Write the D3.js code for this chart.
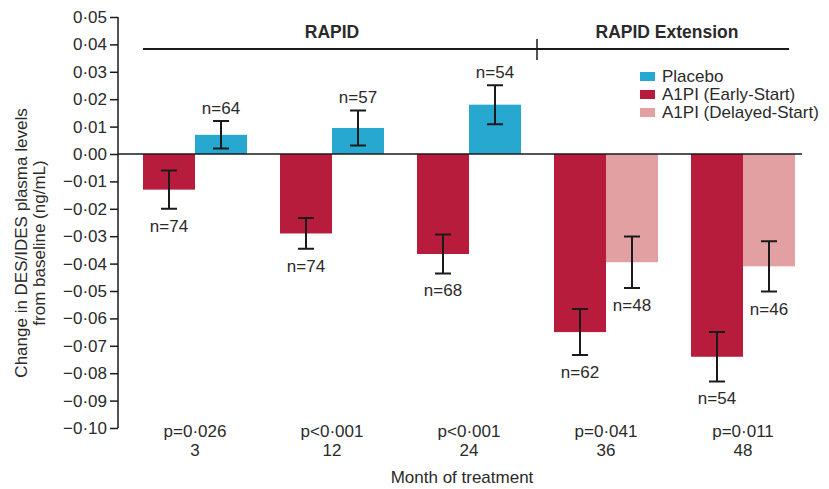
<!DOCTYPE html>
<html>
<head>
<meta charset="utf-8">
<script src="https://cdn.jsdelivr.net/npm/d3@7"></script>
<style>
  body { margin: 0; background: #fff; }
  text { font-family: "Liberation Sans", Arial, sans-serif; fill: #2a2a2a; }
</style>
</head>
<body>
<div id="chart"></div>
<script>
  "use strict";

  // data
  var months = ["3", "12", "24", "36", "48"];
  var pValues = ["p=0·026", "p<0·001", "p<0·001", "p=0·041", "p=0·011"];
  var earlyStart = [-0.013, -0.029, -0.0365, -0.065, -0.074];
  var earlyErr = [0.007, 0.0056, 0.0071, 0.0084, 0.009];
  var earlyN = [74, 74, 68, 62, 54];
  var comparator = [0.007, 0.0095, 0.018, -0.0395, -0.041];
  var comparatorErr = [0.005, 0.0064, 0.0071, 0.0094, 0.0092];
  var comparatorN = [64, 57, 54, 48, 46];
  var comparatorGroup = ["Placebo", "Placebo", "Placebo", "Delayed", "Delayed"];
  var yTicks = [0.05, 0.04, 0.03, 0.02, 0.01, 0, -0.01, -0.02, -0.03, -0.04, -0.05, -0.06, -0.07, -0.08, -0.09, -0.10];
  var legendLabels = ["Placebo", "A1PI (Early-Start)", "A1PI (Delayed-Start)"];

  var width = 829, height = 489;
  var colors = { "Placebo": "#27a8d0", "Early": "#b71c3c", "Delayed": "#e2a0a2" };
  var fs = "17px";

  var svg = d3.select("#chart").append("svg")
    .attr("width", width)
    .attr("height", height);

  var y = d3.scaleLinear().domain([-0.10, 0.05]).range([428, 17]);
  var x = d3.scalePoint().domain(months).range([195, 743]);
  var xSub = d3.scaleBand().domain(["a", "b"]).range([-52, 52]);

  var fmt = function(v) {
    var s = d3.format(".2f")(Math.abs(v)).replace(".", "·");
    return (v < 0 ? "\u2212" + s : s);
  };

  // rows of bars
  var rows = [];
  months.forEach(function(m, i) {
    rows.push({ m: m, k: "a", v: earlyStart[i], e: earlyErr[i], n: earlyN[i], c: colors.Early });
    rows.push({ m: m, k: "b", v: comparator[i], e: comparatorErr[i], n: comparatorN[i], c: colors[comparatorGroup[i]] });
  });

  var bars = svg.append("g").selectAll("g")
    .data(rows)
    .enter()
    .append("g")
    .attr("transform", function(d) { return "translate(" + (x(d.m) + xSub(d.k)) + ",0)"; });

  bars.append("rect")
    .attr("x", 0)
    .attr("width", xSub.bandwidth())
    .attr("y", function(d) { return y(Math.max(0, d.v)); })
    .attr("height", function(d) { return Math.abs(y(d.v) - y(0)); })
    .style("fill", function(d) { return d.c; });

  var cx = xSub.bandwidth() / 2;
  bars.append("path")
    .attr("d", function(d) {
      var t = y(d.v + d.e), b = y(d.v - d.e);
      return "M" + (cx - 8) + "," + t + "H" + (cx + 8) +
        "M" + cx + "," + t + "V" + b +
        "M" + (cx - 8) + "," + b + "H" + (cx + 8);
    })
    .style("stroke", "#1a1a1a")
    .style("stroke-width", 2)
    .style("fill", "none");

  bars.append("text")
    .attr("x", cx)
    .attr("y", function(d) {
      return d.v >= 0 ? y(d.v + d.e) - 7 : y(d.v - d.e) + 23;
    })
    .attr("text-anchor", "middle")
    .style("font-size", fs)
    .text(function(d) { return "n=" + d.n; });

  // y axis
  var yAxis = d3.axisLeft(y).tickValues(yTicks).tickSize(8).tickFormat(fmt);
  var gy = svg.append("g")
    .attr("transform", "translate(118,0)")
    .call(yAxis);
  gy.selectAll("path, line").style("stroke", "#1a1a1a").style("stroke-width", 1.5);
  gy.select(".domain").attr("d", "M0," + y(0.05) + "V" + y(-0.10));
  gy.selectAll("text")
    .attr("x", -11)
    .style("font-size", fs)
    .style("font-family", "'Liberation Sans', Arial, sans-serif")
    .style("fill", "#2a2a2a");

  // zero line
  svg.append("line")
    .attr("x1", 118).attr("x2", 802)
    .attr("y1", y(0)).attr("y2", y(0))
    .style("stroke", "#1a1a1a")
    .style("stroke-width", 1.5);

  // y title
  var yt = svg.append("text")
    .attr("transform", "translate(0," + 243 + ") rotate(-90)")
    .attr("text-anchor", "middle")
    .style("font-size", fs);
  yt.append("tspan").attr("x", 0).attr("y", 27).text("Change in DES/IDES plasma levels");
  yt.append("tspan").attr("x", 0).attr("y", 45).text("from baseline (ng/mL)");

  // p-values, month labels
  svg.append("g").selectAll("text")
    .data(months)
    .enter()
    .append("text")
    .attr("x", function(d) { return x(d); })
    .attr("y", 437)
    .attr("text-anchor", "middle")
    .style("font-size", fs)
    .text(function(d, i) { return pValues[i]; });

  svg.append("g").selectAll("text")
    .data(months)
    .enter()
    .append("text")
    .attr("x", function(d) { return x(d); })
    .attr("y", 456)
    .attr("text-anchor", "middle")
    .style("font-size", fs)
    .text(function(d) { return d; });

  svg.append("text")
    .attr("x", 462)
    .attr("y", 483)
    .attr("text-anchor", "middle")
    .style("font-size", fs)
    .text("Month of treatment");

  // study header
  svg.append("line")
    .attr("x1", 143).attr("x2", 789)
    .attr("y1", 49).attr("y2", 49)
    .style("stroke", "#1a1a1a").style("stroke-width", 2);
  svg.append("line")
    .attr("x1", 537).attr("x2", 537)
    .attr("y1", 39).attr("y2", 60)
    .style("stroke", "#1a1a1a").style("stroke-width", 1.5);
  svg.append("text")
    .attr("x", 332).attr("y", 38)
    .attr("text-anchor", "middle")
    .style("font-size", "17.5px").style("font-weight", "bold")
    .text("RAPID");
  svg.append("text")
    .attr("x", 667).attr("y", 38)
    .attr("text-anchor", "middle")
    .style("font-size", "17.5px").style("font-weight", "bold")
    .text("RAPID Extension");

  // legend
  var legColors = [colors.Placebo, colors.Early, colors.Delayed];
  var leg = svg.append("g").selectAll("g")
    .data(legendLabels)
    .enter()
    .append("g")
    .attr("transform", function(d, i) { return "translate(640," + (82 + i * 18) + ")"; });
  leg.append("rect")
    .attr("x", 0).attr("y", -10)
    .attr("width", 15).attr("height", 9)
    .style("fill", function(d, i) { return legColors[i]; });
  leg.append("text")
    .attr("x", 22).attr("y", 0)
    .style("font-size", fs)
    .text(function(d) { return d; });
</script>
</body>
</html>
